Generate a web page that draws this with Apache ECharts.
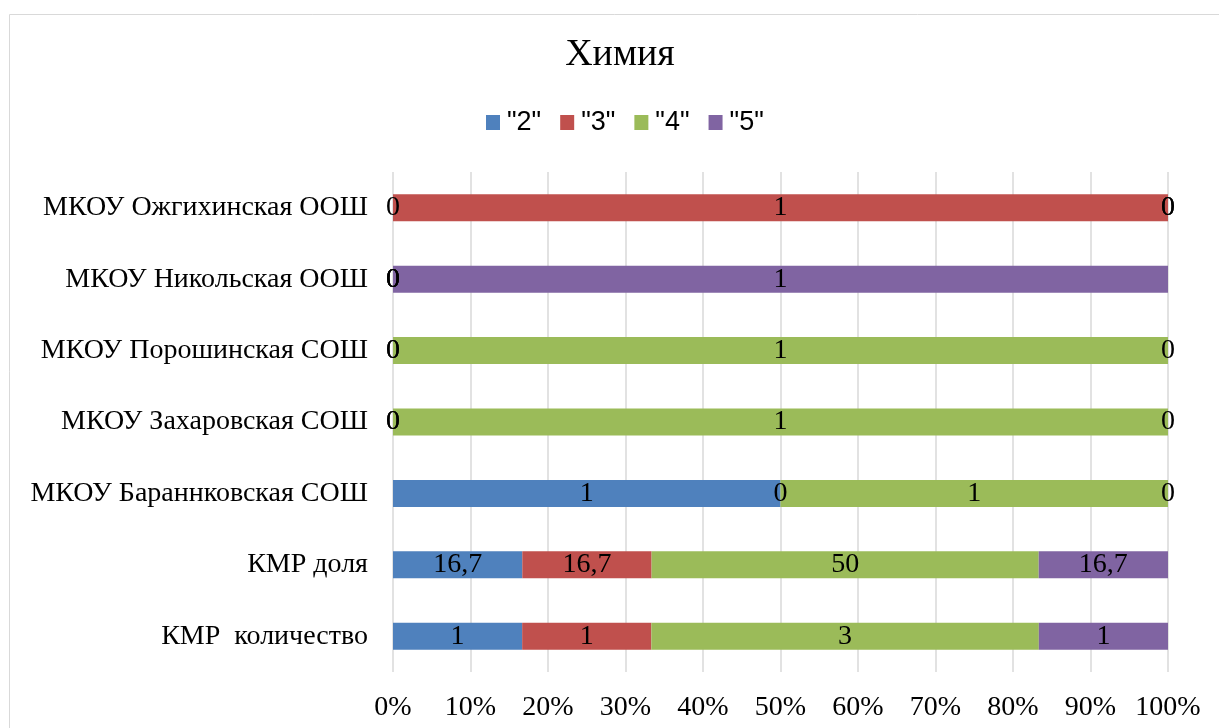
<!DOCTYPE html>
<html><head><meta charset="utf-8">
<script src="https://cdn.jsdelivr.net/npm/echarts@6/dist/echarts.min.js"></script>
<style>html,body{margin:0;padding:0;background:#fff}#c{width:1219px;height:728px}</style>
</head><body><div id="c"></div>
<script>
const categories = ["КМР  количество", "КМР доля", "МКОУ Бараннковская СОШ", "МКОУ Захаровская СОШ", "МКОУ Порошинская СОШ", "МКОУ Никольская ООШ", "МКОУ Ожгихинская ООШ"];
const seriesNames = ['"2"', '"3"', '"4"', '"5"'];
const s2 = [1, 16.7, 1, 0, 0, 0, 0];
const s3 = [1, 16.7, 0, 0, 0, 0, 1];
const s4 = [3, 50, 1, 1, 1, 0, 0];
const s5 = [1, 16.7, 0, 0, 0, 1, 0];
const xTicks = ["0%", "10%", "20%", "30%", "40%", "50%", "60%", "70%", "80%", "90%", "100%"];
const colors = ["#4f81bd", "#c0504d", "#9bbb59", "#8064a2"];

const raw = [s2, s3, s4, s5];
const totals = categories.map((_, i) => raw.reduce((a, s) => a + s[i], 0));
const FONT = "Liberation Serif";

const chart = echarts.init(document.getElementById('c'));
chart.setOption({
  animation: false,
  title: { text: "Химия", left: 615, textAlign: 'center', top: 31, textStyle: { fontFamily: FONT, fontSize: 38, fontWeight: 'normal', color: '#000' } },
  legend: {
    top: 104, left: 481, itemWidth: 14, itemHeight: 15, itemGap: 19, icon: 'rect',
    textStyle: { fontFamily: "Liberation Sans", fontSize: 27, color: '#000', padding: [0, 0, 0, 2] },
    data: seriesNames
  },
  grid: { left: 393, right: 51, top: 172, bottom: 56, containLabel: false },
  xAxis: {
    type: 'value', min: 0, max: 100, interval: 10,
    axisLine: { show: false }, axisTick: { show: false },
    splitLine: { show: true, lineStyle: { color: '#d9d9d9', width: 1.5 } },
    axisLabel: { fontFamily: FONT, fontSize: 28, color: '#000', margin: 22,
      formatter: v => xTicks[Math.round(v / 10)] }
  },
  yAxis: {
    type: 'category', data: categories,
    axisLine: { show: false }, axisTick: { show: false },
    axisLabel: { fontFamily: FONT, fontSize: 28, color: '#000', margin: 25 }
  },
  series: raw.map((s, k) => ({
    name: seriesNames[k], type: 'bar', stack: 'total', barWidth: 27,
    itemStyle: { color: colors[k] },
    label: { show: true, position: 'inside', fontFamily: FONT, fontSize: 28, color: '#000',
      formatter: p => String(s[p.dataIndex]).replace('.', ',') },
    data: s.map((v, i) => v / totals[i] * 100)
  })),
  graphic: [{ type: 'rect', shape: { x: 9.5, y: 14.5, width: 1300, height: 800 }, style: { fill: 'none', stroke: '#d9d9d9', lineWidth: 1 }, silent: true }]
});
</script></body></html>
